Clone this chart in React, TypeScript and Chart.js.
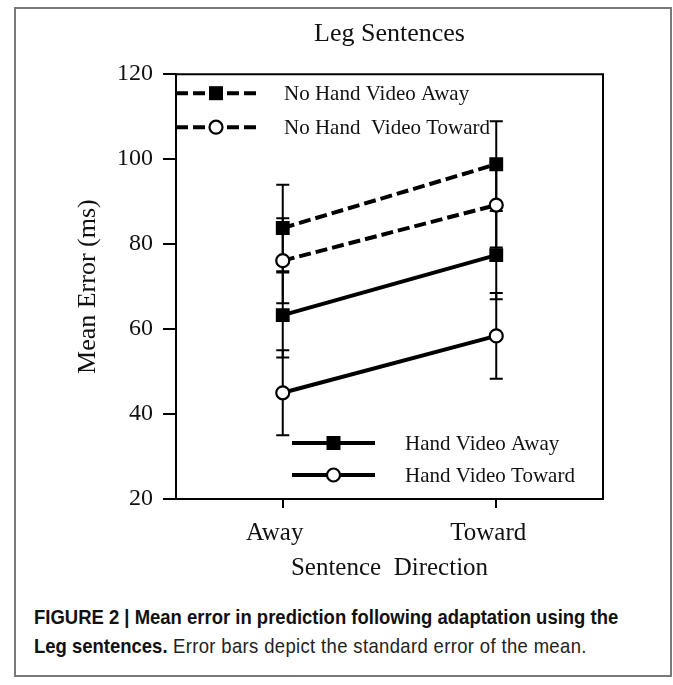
import React, { useEffect, useRef } from 'react';
import { Chart, registerables } from 'chart.js';

Chart.register(...registerables);

const categories = ['Away', 'Toward'];
const yMin = 20;
const yMax = 120;
const yStep = 20;

const seriesLabels = [
  'No Hand Video Away',
  'No Hand  Video Toward',
  'Hand Video Away',
  'Hand Video Toward',
];

const noHandAway = [83.8, 98.8];
const noHandAwayErr = [10.2, 10.1];
const noHandToward = [76.1, 89.2];
const noHandTowardErr = [10, 10];
const handAway = [63.3, 77.4];
const handAwayErr = [10, 10.4];
const handToward = [45, 58.4];
const handTowardErr = [10, 10.1];

const chartTitle = 'Leg Sentences';
const xTitle = 'Sentence  Direction';
const yTitle = 'Mean Error (ms)';

const SERIF = "'Liberation Serif', 'Times New Roman', serif";

const errorBarPlugin = {
  id: 'errorBars',
  beforeDatasetsDraw(chart: any) {
    const { ctx } = chart;
    const y = chart.scales.y;
    ctx.save();
    ctx.strokeStyle = '#000';
    ctx.lineWidth = 2;
    ctx.setLineDash([]);
    chart.data.datasets.forEach((ds: any, di: number) => {
      const meta = chart.getDatasetMeta(di);
      ds.data.forEach((v: number, i: number) => {
        const e = ds.errors[i];
        const px = meta.data[i].x;
        const yTop = y.getPixelForValue(v + e);
        const yBot = y.getPixelForValue(v - e);
        ctx.beginPath();
        ctx.moveTo(px, yTop);
        ctx.lineTo(px, yBot);
        ctx.moveTo(px - 6.5, yTop);
        ctx.lineTo(px + 6.5, yTop);
        ctx.moveTo(px - 6.5, yBot);
        ctx.lineTo(px + 6.5, yBot);
        ctx.stroke();
      });
    });
    ctx.restore();
  },
};

const framePlugin = {
  id: 'frame',
  afterDraw(chart: any) {
    const { ctx, chartArea } = chart;
    ctx.save();
    ctx.strokeStyle = '#000';
    ctx.lineWidth = 2;
    ctx.beginPath();
    ctx.moveTo(chartArea.left, chartArea.top);
    ctx.lineTo(chartArea.right, chartArea.top);
    ctx.lineTo(chartArea.right, chartArea.bottom);
    ctx.stroke();
    ctx.restore();
  },
};

function drawLegendEntry(ctx: any, ds: any, x0: number, x1: number, y: number, tx: number) {
  const xm = (x0 + x1) / 2;
  ctx.save();
  ctx.strokeStyle = ds.borderColor;
  ctx.lineWidth = ds.borderWidth;
  ctx.setLineDash(ds.borderDash || []);
  ctx.beginPath();
  ctx.moveTo(x0, y);
  ctx.lineTo(x1, y);
  ctx.stroke();
  ctx.setLineDash([]);
  if (ds.pointStyle === 'rect') {
    const s = 14;
    ctx.fillStyle = ds.pointBackgroundColor;
    ctx.fillRect(xm - s / 2, y - s / 2, s, s);
  } else {
    ctx.beginPath();
    ctx.arc(xm, y, ds.pointRadius, 0, Math.PI * 2);
    ctx.fillStyle = ds.pointBackgroundColor;
    ctx.fill();
    ctx.lineWidth = ds.pointBorderWidth;
    ctx.strokeStyle = ds.pointBorderColor;
    ctx.stroke();
  }
  ctx.fillStyle = '#111';
  ctx.font = `21px ${SERIF}`;
  ctx.textBaseline = 'middle';
  ctx.textAlign = 'left';
  ctx.fillText(ds.label, tx, y + 1);
  ctx.restore();
}

const legendPlugin = {
  id: 'customLegend',
  afterDraw(chart: any) {
    const { ctx, chartArea } = chart;
    const ds = chart.data.datasets;
    const L = chartArea.left;
    const T = chartArea.top;
    const B = chartArea.bottom;
    drawLegendEntry(ctx, ds[0], L, L + 80, T + 19, L + 108);
    drawLegendEntry(ctx, ds[1], L, L + 80, T + 53, L + 108);
    drawLegendEntry(ctx, ds[2], L + 116, L + 199, B - 56, L + 229);
    drawLegendEntry(ctx, ds[3], L + 116, L + 199, B - 24, L + 229);
  },
};

function makeDataset(label: string, data: number[], errors: number[], dashed: boolean, filled: boolean) {
  return {
    label,
    data,
    errors,
    borderColor: '#000',
    borderWidth: 4,
    borderDash: dashed ? [12, 5] : [],
    pointStyle: filled ? 'rect' : 'circle',
    pointRadius: filled ? 9.8 : 6.5,
    pointHoverRadius: filled ? 9.8 : 6.5,
    pointBackgroundColor: filled ? '#000' : '#fff',
    pointBorderColor: '#000',
    pointBorderWidth: filled ? 0 : 2.2,
    tension: 0,
    fill: false,
  };
}

export default function App() {
  const canvasRef = useRef<HTMLCanvasElement | null>(null);

  useEffect(() => {
    if (!canvasRef.current) return;
    const chart = new Chart(canvasRef.current, {
      type: 'line',
      data: {
        labels: categories,
        datasets: [
          makeDataset(seriesLabels[0], noHandAway, noHandAwayErr, true, true),
          makeDataset(seriesLabels[1], noHandToward, noHandTowardErr, true, false),
          makeDataset(seriesLabels[2], handAway, handAwayErr, false, true),
          makeDataset(seriesLabels[3], handToward, handTowardErr, false, false),
        ] as any,
      },
      options: {
        animation: false,
        responsive: false,
        devicePixelRatio: 1,
        layout: { padding: { left: 0, right: 70, top: 0, bottom: 0 } },
        plugins: {
          legend: { display: false },
          tooltip: { enabled: false },
          title: {
            display: true,
            text: chartTitle,
            fullSize: false,
            color: '#111',
            font: { family: SERIF, size: 26, weight: 'normal' },
            padding: { top: 19, bottom: 24 },
          },
        },
        scales: {
          x: {
            type: 'category',
            offset: true,
            afterFit: (s: any) => {
              s.height = 101;
            },
            grid: {
              display: true,
              drawOnChartArea: false,
              drawTicks: true,
              tickLength: 9,
              color: '#000',
              lineWidth: 2,
            },
            border: { display: true, color: '#000', width: 2 },
            ticks: {
              color: '#111',
              font: { family: SERIF, size: 25 },
              padding: 10,
              labelOffset: -8,
              maxRotation: 0,
            },
            title: {
              display: true,
              text: xTitle,
              color: '#111',
              font: { family: SERIF, size: 25 },
              padding: { top: 0, bottom: 17 },
            },
          },
          y: {
            type: 'linear',
            min: yMin,
            max: yMax,
            afterFit: (s: any) => {
              s.width = 176;
            },
            grid: {
              display: true,
              drawOnChartArea: false,
              drawTicks: true,
              tickLength: 13,
              color: '#000',
              lineWidth: 2,
            },
            border: { display: true, color: '#000', width: 2 },
            ticks: {
              stepSize: yStep,
              color: '#111',
              font: { family: SERIF, size: 24 },
              padding: 10,
            },
            title: {
              display: true,
              text: yTitle,
              color: '#111',
              font: { family: SERIF, size: 26 },
              padding: { top: 73, bottom: 0 },
            },
          },
        },
      },
      plugins: [errorBarPlugin, framePlugin, legendPlugin],
    } as any);
    return () => chart.destroy();
  }, []);

  return (
    <div style={{ position: 'absolute', left: 0, top: 0, width: 673, height: 685, background: '#fff' }}>
      <div
        style={{
          position: 'absolute',
          left: 14,
          top: 7,
          width: 658,
          height: 670,
          boxSizing: 'border-box',
          border: '2px solid #7a7a7a',
        }}
      />
      <canvas
        ref={canvasRef}
        width={673}
        height={600}
        style={{ position: 'absolute', left: 0, top: 0, width: 673, height: 600 }}
      />
      <div
        style={{
          position: 'absolute',
          left: 34,
          top: 602,
          width: 680,
          fontFamily: "'Liberation Sans Narrow', 'Arial Narrow', 'Liberation Sans', Arial, sans-serif",
          fontSize: 21,
          lineHeight: '29px',
          color: '#222',
          whiteSpace: 'nowrap',
          transform: 'scaleX(0.88)',
          transformOrigin: '0 0',
        }}
      >
        <b style={{ color: '#111' }}>FIGURE 2 | Mean error in prediction following adaptation using the</b>
        <br />
        <b style={{ color: '#111' }}>Leg sentences.</b>
        <span style={{ letterSpacing: '0.4px' }}> Error bars depict the standard error of the mean.</span>
      </div>
    </div>
  );
}
